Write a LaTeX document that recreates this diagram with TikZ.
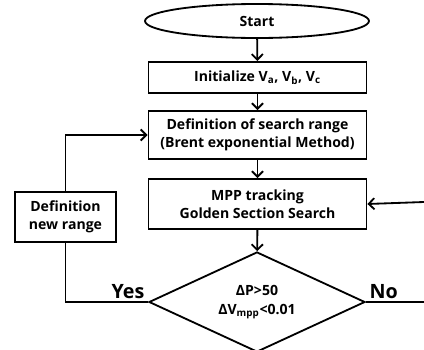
\documentclass[tikz,border=0pt]{standalone}
\usepackage{fontspec}
\setmainfont{Open Sans}
\usetikzlibrary{arrows.meta,shapes.geometric}

\begin{document}
\begin{tikzpicture}[x=0.025cm,y=-0.025cm,>={Straight Barb[length=4pt,width=8pt]},
 line width=1.3pt,font=\fontsize{10}{13}\selectfont\bfseries,
 cell/.style={draw,minimum width=5.45cm,align=center,inner sep=1pt},
 flow/.style={->}]
\useasboundingbox (0,0) rectangle (424,350);
\node[draw,ellipse,minimum width=5.6cm,minimum height=0.85cm,inner sep=0pt] (start) at (257,21) {Start};
\node[cell,minimum height=0.78cm] (init) at (257.5,77.5) {Initialize V\textsubscript{a}, V\textsubscript{b}, V\textsubscript{c}};
\node[cell,minimum height=1.2cm] (range) at (257.5,135) {Definition of search range\\(Brent exponential Method)};
\node[cell,minimum height=1.25cm] (mpp) at (257.5,204) {MPP tracking\\Golden Section Search};
\node[draw,diamond,align=center,minimum width=5.4cm,minimum height=2.5cm,inner sep=0pt,aspect=2.16] (check) at (257,302) {ΔP>50\\ΔV\textsubscript{mpp}<0.01};
\node[cell,minimum width=2.52cm,minimum height=1.25cm] (newrange) at (65.5,217) {Definition\\new range};
\coordinate (noend) at (424,302);
\coordinate (back) at (424,202);
\draw[flow] (start) -- (init);
\draw[flow] (init) -- (range);
\draw[flow] (range) -- (mpp);
\draw[flow] (mpp) -- (check);
\draw (check.west) -| (newrange.south);
\draw[flow] (newrange.north) |- (range.west);
\draw (check.east) -- (noend);
\draw[flow] (back) -- (mpp.east);
\node[font=\fontsize{14}{16}\selectfont\bfseries,anchor=south east,inner sep=2pt] (yes) at (check.west) {Yes};
\node[font=\fontsize{14}{16}\selectfont\bfseries,anchor=south west,inner sep=2pt] (no) at (check.east) {No};
\end{tikzpicture}
\end{document}
